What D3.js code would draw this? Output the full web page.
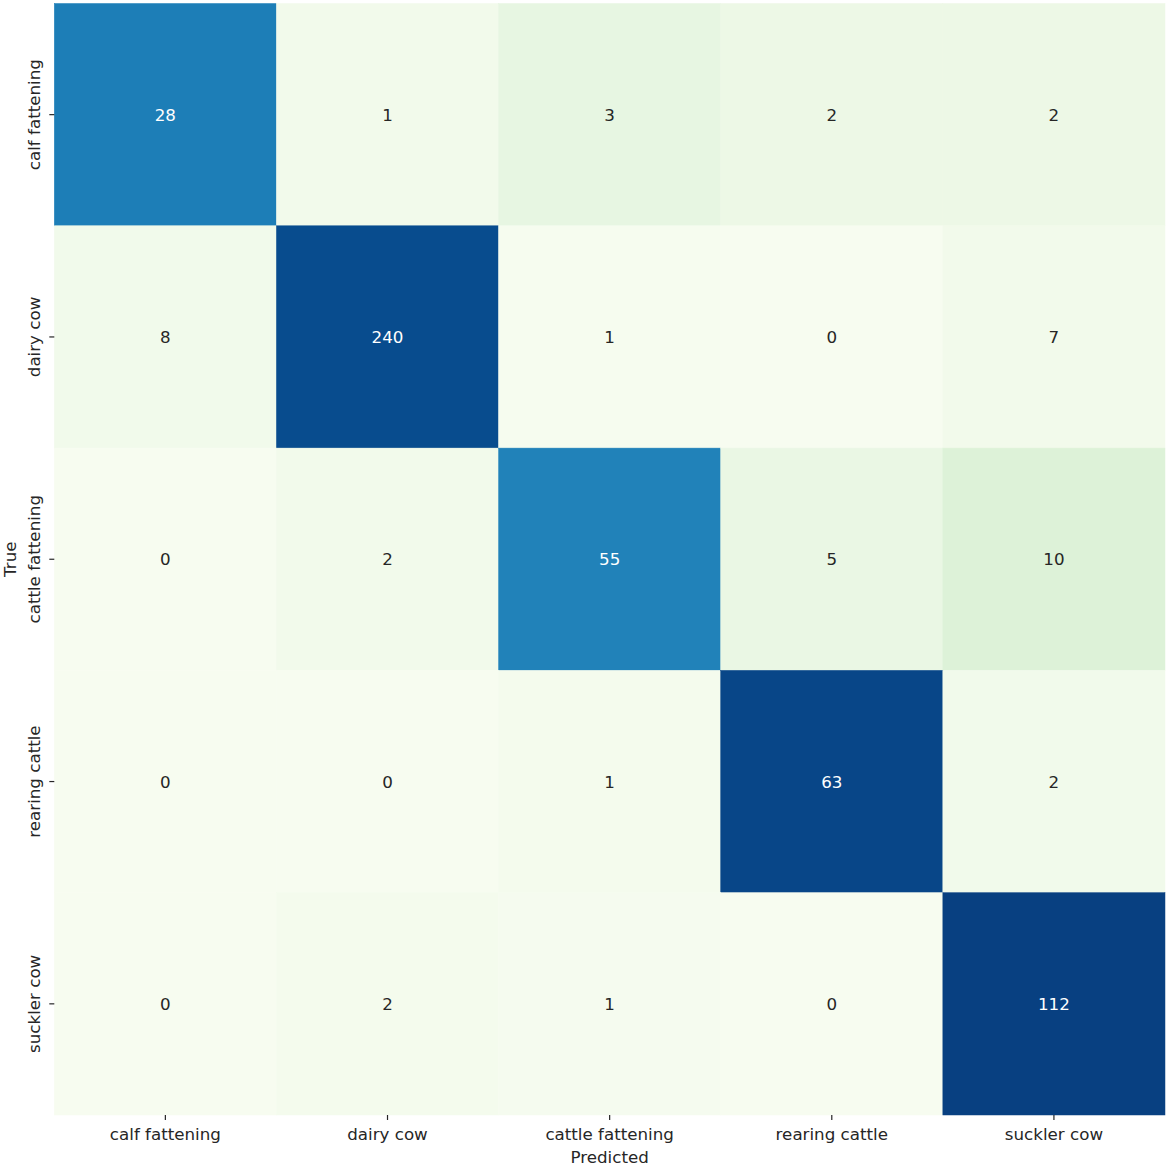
<!DOCTYPE html>
<html>
<head>
<meta charset="utf-8">
<script src="https://cdn.jsdelivr.net/npm/d3@7"></script>
<style>
  body { margin: 0; background: #fff; }
  text { font-family: "DejaVu Sans", sans-serif; }
</style>
</head>
<body>
<div id="drawing"></div>
<script>
"use strict"

/**** DATA ****/
let classes = ["calf fattening", "dairy cow", "cattle fattening", "rearing cattle", "suckler cow"]

// rows = true class, columns = predicted class
let rowCalf = [28, 1, 3, 2, 2]
let rowDairy = [8, 240, 1, 0, 7]
let rowCattle = [0, 2, 55, 5, 10]
let rowRearing = [0, 0, 1, 63, 2]
let rowSuckler = [0, 2, 1, 0, 112]

let counts = [rowCalf, rowDairy, rowCattle, rowRearing, rowSuckler]

/**** CONFIG ****/
let svgWidth = 1169
let svgHeight = 1167
let plotLeft = 54.3
let plotRight = 1165
let plotTop = 3.5
let plotBottom = 1115
let fontSize = 16.7

let svg = d3.select("#drawing").append("svg")
  .attr("width", svgWidth)
  .attr("height", svgHeight)

/**** CELLS (colour = row share, like a normalised matrix) ****/
let cells = []
counts.forEach(function(row, i) {
  let total = d3.sum(row)
  row.forEach(function(v, j) {
    cells.push({ r: i, c: j, value: v, share: v / total })
  })
})

let maxShare = d3.max(cells, d => d.share)

// matplotlib GnBu (ColorBrewer 9 steps, linear between them)
let gnbu = ["#f7fcf0", "#e0f3db", "#ccebc5", "#a8ddb5", "#7bccc4", "#4eb3d3", "#2b8cbe", "#0868ac", "#084081"]
let color = d3.scaleLinear()
  .domain(d3.range(gnbu.length).map(k => k / (gnbu.length - 1) * maxShare))
  .range(gnbu)
  .interpolate(d3.interpolateRgb)

let xScale = d3.scaleBand().domain(classes).range([plotLeft, plotRight])
let yScale = d3.scaleBand().domain(classes).range([plotTop, plotBottom])

svg.selectAll("rect.cell")
  .data(cells)
  .join("rect")
  .attr("class", "cell")
  .attr("x", d => xScale(classes[d.c]))
  .attr("y", d => yScale(classes[d.r]))
  .attr("width", xScale.bandwidth())
  .attr("height", yScale.bandwidth())
  .attr("fill", d => color(d.share))
  .attr("stroke", d => color(d.share))
  .attr("stroke-width", 0.5)

function luminance(c) {
  let rgb = d3.rgb(c)
  let ch = [rgb.r, rgb.g, rgb.b].map(function(v) {
    v = v / 255
    return v <= 0.03928 ? v / 12.92 : Math.pow((v + 0.055) / 1.055, 2.4)
  })
  return 0.2126 * ch[0] + 0.7152 * ch[1] + 0.0722 * ch[2]
}

svg.selectAll("text.annot")
  .data(cells)
  .join("text")
  .attr("class", "annot")
  .attr("x", d => xScale(classes[d.c]) + xScale.bandwidth() / 2)
  .attr("y", d => yScale(classes[d.r]) + yScale.bandwidth() / 2 + 6)
  .attr("text-anchor", "middle")
  .style("font-size", fontSize + "px")
  .attr("fill", d => luminance(color(d.share)) > 0.408 ? "#262626" : "#ffffff")
  .text(d => d.value)

/**** AXES ****/
let xAxis = d3.axisBottom(xScale).tickSize(5).tickPadding(8)
let gx = svg.append("g")
  .attr("transform", `translate(0,${plotBottom})`)
  .call(xAxis)
gx.select(".domain").remove()
gx.selectAll("line").attr("stroke", "#262626").attr("stroke-width", 1.2)
gx.selectAll("text")
  .style("font-size", fontSize + "px")
  .style("font-family", "DejaVu Sans")
  .attr("fill", "#262626")

let yAxis = d3.axisLeft(yScale).tickSize(5).tickPadding(6)
let gy = svg.append("g")
  .attr("transform", `translate(${plotLeft},0)`)
  .call(yAxis)
gy.select(".domain").remove()
gy.selectAll("line").attr("stroke", "#262626").attr("stroke-width", 1.2)
gy.selectAll("text")
  .style("font-size", fontSize + "px")
  .style("font-family", "DejaVu Sans")
  .attr("fill", "#262626")
  .attr("x", null)
  .attr("dy", null)
  .attr("text-anchor", "middle")
  .attr("transform", "translate(-14,0) rotate(-90)")

/**** AXIS LABELS ****/
svg.append("text")
  .attr("x", (plotLeft + plotRight) / 2)
  .attr("y", 1163)
  .attr("text-anchor", "middle")
  .style("font-size", fontSize + "px")
  .attr("fill", "#262626")
  .text("Predicted")

svg.append("text")
  .attr("transform", `translate(16,${(plotTop + plotBottom) / 2}) rotate(-90)`)
  .attr("text-anchor", "middle")
  .style("font-size", fontSize + "px")
  .attr("fill", "#262626")
  .text("True")
</script>
</body>
</html>
